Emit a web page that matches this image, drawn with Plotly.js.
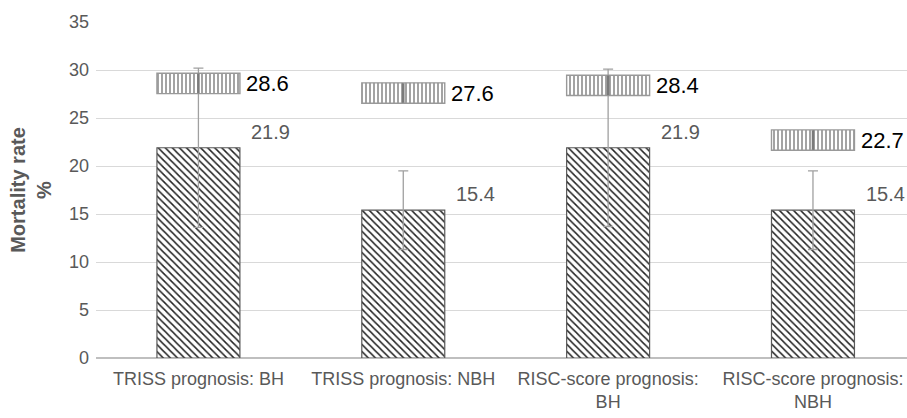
<!DOCTYPE html>
<html><head><meta charset="utf-8">
<script src="https://cdn.plot.ly/plotly-3.0.1.min.js"></script>
<style>body{margin:0;background:#fff}#c{width:907px;height:418px}</style>
</head><body><div id="c"></div>
<script>
const categories = ["TRISS prognosis: BH", "TRISS prognosis: NBH", "RISC-score prognosis:<br>BH", "RISC-score prognosis:<br>NBH"];
const observed = [21.9, 15.4, 21.9, 15.4];
const observedErr = [8.3, 4.1, 8.2, 4.1];
const predicted = [28.6, 27.6, 28.4, 22.7];

const boxHalf = 1.06; // half-height of predicted box in y units (style)
const traces = [
  {
    type: 'bar', x: categories, y: observed, width: 0.405,
    marker: {color: '#ffffff', line: {color: '#595959', width: 1.2},
      pattern: {shape: '\\', fgcolor: '#222', bgcolor: '#ffffff', size: 5, solidity: 0.3}},
    error_y: {type: 'data', array: observedErr, visible: true, color: '#a0a0a0', thickness: 1.3, width: 5},
    hoverinfo: 'skip', showlegend: false
  },
  {
    type: 'bar', x: categories, y: predicted.map(() => 2 * boxHalf), base: predicted.map(v => v - boxHalf), width: 0.405,
    marker: {color: '#ffffff', line: {color: '#999999', width: 1.4},
      pattern: {shape: '|', fgcolor: '#8c8c8c', bgcolor: '#ffffff', size: 4, solidity: 0.4}},
    hoverinfo: 'skip', showlegend: false
  },
  {
    type: 'scatter', mode: 'markers', x: categories, y: predicted,
    marker: {symbol: 'line-ns', size: 14, line: {color: '#7a7a7a', width: 2.5}},
    hoverinfo: 'skip', showlegend: false
  }
];

const annotations = [];
categories.forEach((c, i) => {
  annotations.push({x: c, y: observed[i], text: observed[i].toFixed(1), showarrow: false,
    xanchor: 'left', yanchor: 'middle', xshift: 51, yshift: 16,
    font: {family: 'Liberation Sans, Arial, sans-serif', size: 20, color: '#595959'}});
  annotations.push({x: c, y: predicted[i], text: predicted[i].toFixed(1), showarrow: false,
    xanchor: 'left', yanchor: 'middle', xshift: 46, yshift: 0,
    font: {family: 'Liberation Sans, Arial, sans-serif', size: 22, color: '#000000'}});
});

const layout = {
  width: 907, height: 418,
  margin: {l: 96, r: 0, t: 22, b: 60},
  paper_bgcolor: '#ffffff', plot_bgcolor: '#ffffff',
  barmode: 'overlay',
  font: {family: 'Liberation Sans, Arial, sans-serif', color: '#595959', size: 18},
  xaxis: {type: 'category', range: [-0.5, 3.459], showgrid: false, zeroline: false,
    showline: false, ticks: '', ticklabelstandoff: 8, tickfont: {size: 18, color: '#595959'}},
  yaxis: {range: [0, 35], dtick: 5, showgrid: true, gridcolor: '#d9d9d9', gridwidth: 1,
    zeroline: true, zerolinecolor: '#bfbfbf', zerolinewidth: 2,
    ticks: '', ticklabelstandoff: 6, tickfont: {size: 18, color: '#595959'},
    title: {text: '<b>Mortality rate<br>%</b>', font: {size: 20, color: '#595959'}, standoff: 11}},
  annotations: annotations
};
Plotly.newPlot('c', traces, layout, {displayModeBar: false, staticPlot: true});
</script></body></html>
